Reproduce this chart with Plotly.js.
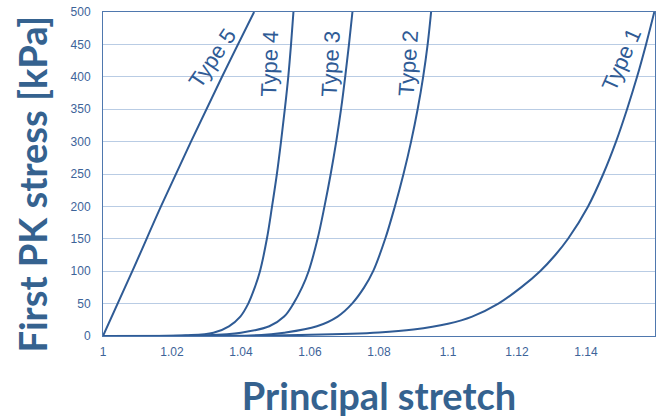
<!DOCTYPE html>
<html>
<head>
<meta charset="utf-8">
<script src="https://cdn.plot.ly/plotly-3.0.1.min.js"></script>
<style>html,body{margin:0;padding:0;background:#fff;}#chart{width:667px;height:420px;}</style>
</head>
<body>
<div id="chart"></div>
<script>
// Stress values (kPa), per curve
const stressY = [0, 1, 5, 15, 30, 50, 75, 100, 150, 200, 250, 300, 350, 400, 450, 500];
const type5X = [1, 1.0085, 1.0168, 1.0255, 1.0345, 1.0438];
const type5Y = [0, 100, 200, 300, 400, 500];
const type4X = [1, 1.024, 1.0320, 1.0365, 1.0398, 1.0421, 1.0440, 1.0455, 1.0475, 1.0490, 1.0504, 1.0516, 1.0527, 1.0537, 1.0545, 1.0552];
const type3X = [1, 1.030, 1.0400, 1.0482, 1.0525, 1.0552, 1.0577, 1.0596, 1.0622, 1.0642, 1.0660, 1.0676, 1.0690, 1.0702, 1.0713, 1.0723];
const type2X = [1, 1.045, 1.0525, 1.0620, 1.0680, 1.0722, 1.0757, 1.0783, 1.0818, 1.0846, 1.0871, 1.0893, 1.0912, 1.0928, 1.0941, 1.0951];
const type1X = [1, 1.04, 1.06, 1.08, 1.09, 1.10, 1.107, 1.1146, 1.1212, 1.1267, 1.1311, 1.1348, 1.1406, 1.1450, 1.1487, 1.1519, 1.1548, 1.1574, 1.1598];
const type1Y = [0, 0.5, 1.8, 5.5, 10, 19, 30, 50, 75, 100, 125, 150, 200, 250, 300, 350, 400, 450, 500];
const xTicks = [1, 1.02, 1.04, 1.06, 1.08, 1.1, 1.12, 1.14, 1.16];
const xTickText = ['1', '1.02', '1.04', '1.06', '1.08', '1.1', '1.12', '1.14', '1.16'];
const yTicks = [0, 50, 100, 150, 200, 250, 300, 350, 400, 450, 500];
const labelNames = ['Type 5', 'Type 4', 'Type 3', 'Type 2', 'Type 1'];
const labelX = [1.0316, 1.0484, 1.0661, 1.0884, 1.1504];
const labelY = [429, 420, 420, 421, 426];
const labelAngle = [-56, -88, -87, -86, -66];
const xTitle = 'Principal stretch';
const yTitle = 'First PK stress [kPa]';

const lineColor = '#2F5B95';
const titleColor = '#35628F';
const series = [
  [type5X, type5Y], [type4X, stressY], [type3X, stressY], [type2X, stressY], [type1X, type1Y]
];
const traces = series.map(s => ({
  x: s[0], y: s[1], type: 'scatter', mode: 'lines',
  line: {color: lineColor, width: 2, shape: 'spline', smoothing: 1},
  hoverinfo: 'skip', showlegend: false
}));

const annotations = labelNames.map((t, i) => ({
  x: labelX[i], y: labelY[i], xref: 'x', yref: 'y', text: t, showarrow: false,
  textangle: labelAngle[i], font: {family: 'Liberation Sans, Arial', size: 22, color: lineColor}
}));
annotations.push({
  x: -0.129, y: 0.47, xref: 'paper', yref: 'paper', text: yTitle, showarrow: false,
  textangle: -90, xanchor: 'center', yanchor: 'middle',
  font: {family: 'Lato, Open Sans', size: 38, color: titleColor, weight: 'bold'}
});

const layout = {
  width: 667, height: 420,
  margin: {l: 103, r: 12, t: 12, b: 84},
  paper_bgcolor: '#fff', plot_bgcolor: '#fff',
  xaxis: {
    range: [1, 1.16], tickvals: xTicks, ticktext: xTickText,
    showgrid: false,
    showline: true, linecolor: '#4F78AE', linewidth: 1, mirror: true,
    zeroline: false, ticks: '', ticklabelstandoff: 5,
    tickfont: {family: 'Liberation Sans, Arial', size: 12, color: '#3D6399'},
    title: {text: xTitle, standoff: 24,
      font: {family: 'Lato, Open Sans', size: 38, color: titleColor, weight: 'bold'}}
  },
  yaxis: {
    range: [0, 500], tickvals: yTicks,
    showgrid: true, gridcolor: '#B9CCE4', gridwidth: 1,
    showline: true, linecolor: '#4F78AE', linewidth: 1, mirror: true,
    zeroline: false, ticks: '', ticklabelstandoff: 9,
    tickfont: {family: 'Liberation Sans, Arial', size: 12, color: '#3D6399'}
  },
  annotations: annotations
};
Plotly.newPlot('chart', traces, layout, {displayModeBar: false, staticPlot: true});
</script>
</body>
</html>
